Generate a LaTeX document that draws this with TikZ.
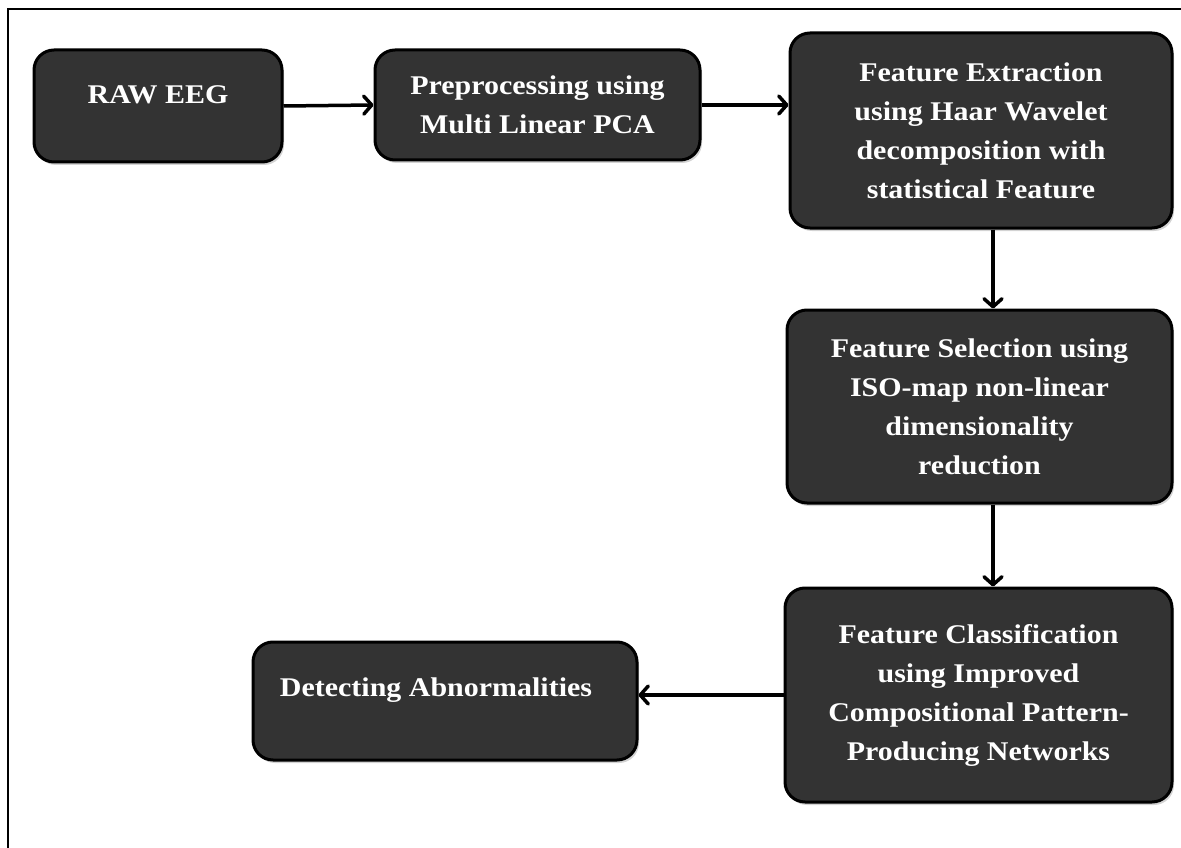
\documentclass[tikz,border=0pt]{standalone}
\usepackage{fontspec}
\setmainfont{Liberation Serif}
\newfontfamily\stagefont[FakeStretch=1.11]{Liberation Serif}
\usetikzlibrary{arrows.meta,shadows}
\definecolor{boxgray}{HTML}{333333}
\begin{document}
\begin{tikzpicture}[x=1pt,y=-1pt,
  stage/.style={draw=black, line width=3pt, fill=boxgray, rounded corners=20pt,
    rectangle, inner sep=0pt,
    text=white, font=\stagefont\fontsize{27}{39}\selectfont\bfseries, align=center,
    drop shadow={opacity=0.35, shadow xshift=2pt, shadow yshift=-3pt}},
  stagetext/.style={text=white, font=\stagefont\fontsize{27}{39}\selectfont\bfseries, align=center, inner sep=0pt},
  flow/.style={line width=3.5pt, -{Straight Barb[round,length=8pt,width=18pt]}}]
\useasboundingbox (0,0) rectangle (1181,848);
\draw[line width=2.5pt] (1200,9) -- (8,9) -- (8,870);
% boxes
\node[stage, minimum width=248pt, minimum height=112pt] (raw) at (158,106) {};
\node[stagetext] (rawt) at (158,95) {RAW EEG};
\node[stage, minimum width=325pt, minimum height=110pt] (pre) at (537.5,105)
  {Preprocessing using\\Multi Linear PCA};
\node[stage, minimum width=382pt, minimum height=195pt] (ext) at (981,130.5)
  {Feature Extraction\\using Haar Wavelet\\decomposition with\\statistical Feature};
\node[stage, minimum width=385pt, minimum height=193pt] (sel) at (979.5,406.5)
  {Feature Selection using\\ISO-map non-linear\\dimensionality\\reduction};
\node[stage, minimum width=387pt, minimum height=214pt] (cls) at (978.5,695)
  {Feature Classification\\using Improved\\Compositional Pattern-\\Producing Networks};
\node[stage, minimum width=384pt, minimum height=118pt] (det) at (445,701) {};
\node[stagetext] (dett) at (436,690) {Detecting Abnormalities};
% connectors
\coordinate (vx) at (993,0);
\draw[flow] (raw.east) -- (pre.west);
\draw[flow] (pre.east) -- (pre.east -| ext.west);
\draw[flow] (ext.south -| vx) -- (sel.north -| vx);
\draw[flow] (sel.south -| vx) -- (cls.north -| vx);
\draw[flow] (cls.west) -- (cls.west -| det.east);
\end{tikzpicture}
\end{document}
